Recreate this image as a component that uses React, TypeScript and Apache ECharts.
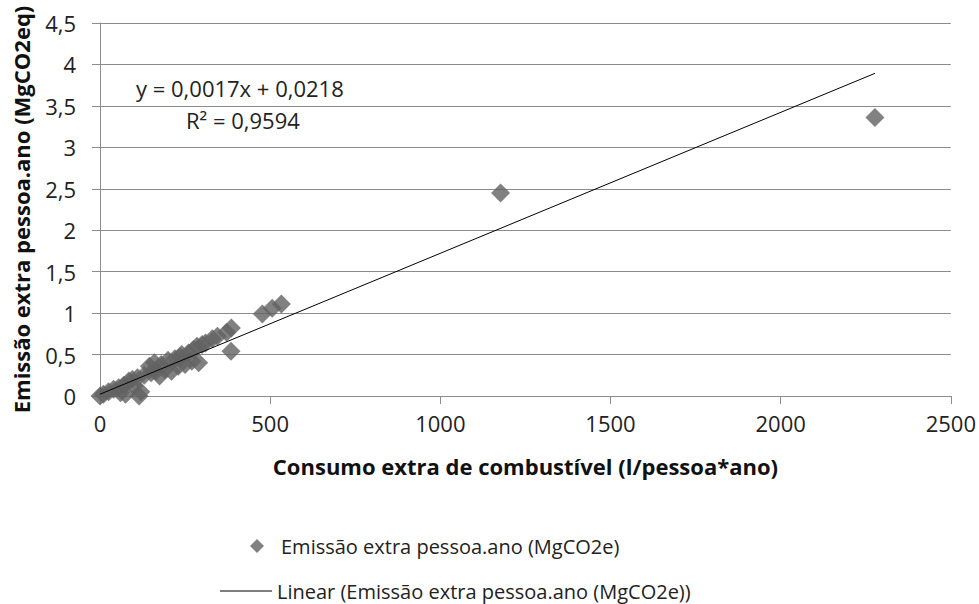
import React, { useEffect, useRef } from "react";
import * as echarts from "echarts";

const xValues = [0, 10, 25, 40, 55, 60, 70, 75, 85, 95, 100, 110, 115, 120, 130, 145, 150, 160, 165, 175, 180, 190, 200, 210, 220, 230, 235, 240, 250, 260, 270, 275, 285, 290, 300, 310, 330, 345, 372, 386, 385, 477, 506, 533, 1177, 2277];
const yValues = [0, 0.02, 0.05, 0.08, 0.1, 0.04, 0.13, 0.02, 0.18, 0.2, 0.12, 0.22, 0.0, 0.05, 0.25, 0.36, 0.28, 0.4, 0.3, 0.24, 0.38, 0.32, 0.43, 0.3, 0.45, 0.36, 0.47, 0.5, 0.38, 0.52, 0.42, 0.56, 0.6, 0.4, 0.62, 0.64, 0.69, 0.72, 0.77, 0.82, 0.54, 0.99, 1.06, 1.11, 2.45, 3.36];

const trendSlope = 0.0017;
const trendIntercept = 0.0218;
const equationLabel = "y = 0,0017x + 0,0218";
const r2Label = "R² = 0,9594";

const scatterName = "Emissão extra pessoa.ano (MgCO2e)";
const trendName = "Linear (Emissão extra pessoa.ano (MgCO2e))";
const xAxisTitle = "Consumo extra de combustível (l/pessoa*ano)";
const yAxisTitle = "Emissão extra pessoa.ano (MgCO2eq)";

const xTicks = { min: 0, max: 2500, interval: 500 };
const yTicks = { min: 0, max: 4.5, interval: 0.5 };

const FONT = "Open Sans";

export default function App() {
  const ref = useRef<HTMLDivElement>(null);
  useEffect(() => {
    if (!ref.current) return;
    const chart = echarts.init(ref.current, null, { renderer: "svg" });
    const points = xValues.map((x, i) => [x, yValues[i]]);
    const xMin = Math.min(...xValues);
    const xMax = Math.max(...xValues);
    const trend = [
      [xMin, trendSlope * xMin + trendIntercept],
      [xMax, trendSlope * xMax + trendIntercept],
    ];
    const fmt = (v: number) => String(v).replace(".", ",");
    chart.setOption({
      animation: false,
      backgroundColor: "#fff",
      textStyle: { fontFamily: FONT },
      grid: { left: 100, right: 25, top: 23, bottom: 208, containLabel: false },
      xAxis: {
        type: "value",
        min: xTicks.min,
        max: xTicks.max,
        interval: xTicks.interval,
        name: xAxisTitle,
        nameLocation: "middle",
        nameGap: 59,
        nameTextStyle: { fontFamily: FONT, fontSize: 22, fontWeight: "bold", color: "#111" },
        axisLine: { show: true, onZero: false, lineStyle: { color: "#8c8c8c", width: 1 } },
        axisTick: { show: true, length: 8, lineStyle: { color: "#8c8c8c" } },
        splitLine: { show: false },
        axisLabel: { fontFamily: FONT, fontSize: 22, color: "#222", margin: 16, formatter: fmt },
      },
      yAxis: {
        type: "value",
        min: yTicks.min,
        max: yTicks.max,
        interval: yTicks.interval,
        name: yAxisTitle,
        nameLocation: "middle",
        nameGap: 68,
        nameTextStyle: { fontFamily: FONT, fontSize: 22, fontWeight: "bold", color: "#111" },
        axisLine: { show: true, lineStyle: { color: "#8c8c8c", width: 1 } },
        axisTick: { show: true, length: 8, lineStyle: { color: "#8c8c8c" } },
        splitLine: { show: true, lineStyle: { color: "#8c8c8c", width: 1 } },
        axisLabel: { fontFamily: FONT, fontSize: 22, color: "#222", margin: 24, formatter: fmt },
      },
      legend: [
        {
          data: [scatterName],
          orient: "vertical",
          left: 245,
          top: 531,
          itemWidth: 14,
          itemHeight: 14,
          icon: "diamond",
          textStyle: { fontFamily: FONT, fontSize: 20, color: "#222", padding: [0, 0, 0, 12] },
        },
        {
          data: [{ name: trendName, icon: "rect" }],
          orient: "vertical",
          left: 215,
          top: 576,
          itemWidth: 52,
          itemHeight: 1,
          textStyle: { fontFamily: FONT, fontSize: 20, color: "#222" },
        },
      ],
      graphic: [
        {
          type: "text",
          left: 136,
          top: 77,
          style: { text: equationLabel, fontFamily: FONT, fontSize: 22, fill: "#222" },
        },
        {
          type: "text",
          left: 186,
          top: 109,
          style: { text: r2Label, fontFamily: FONT, fontSize: 22, fill: "#222" },
        },
      ],
      series: [
        {
          name: scatterName,
          type: "scatter",
          data: points,
          symbol: "diamond",
          symbolSize: 19,
          itemStyle: { color: "#626262" },
          z: 2,
        },
        {
          name: trendName,
          type: "line",
          data: trend,
          symbol: "none",
          showSymbol: false,
          lineStyle: { color: "#000", width: 1 },
          itemStyle: { color: "#000" },
          z: 3,
        },
      ],
    });
    return () => chart.dispose();
  }, []);
  return (
    <div
      ref={ref}
      style={{ position: "fixed", left: 0, top: 0, width: 979, height: 604 }}
    />
  );
}
